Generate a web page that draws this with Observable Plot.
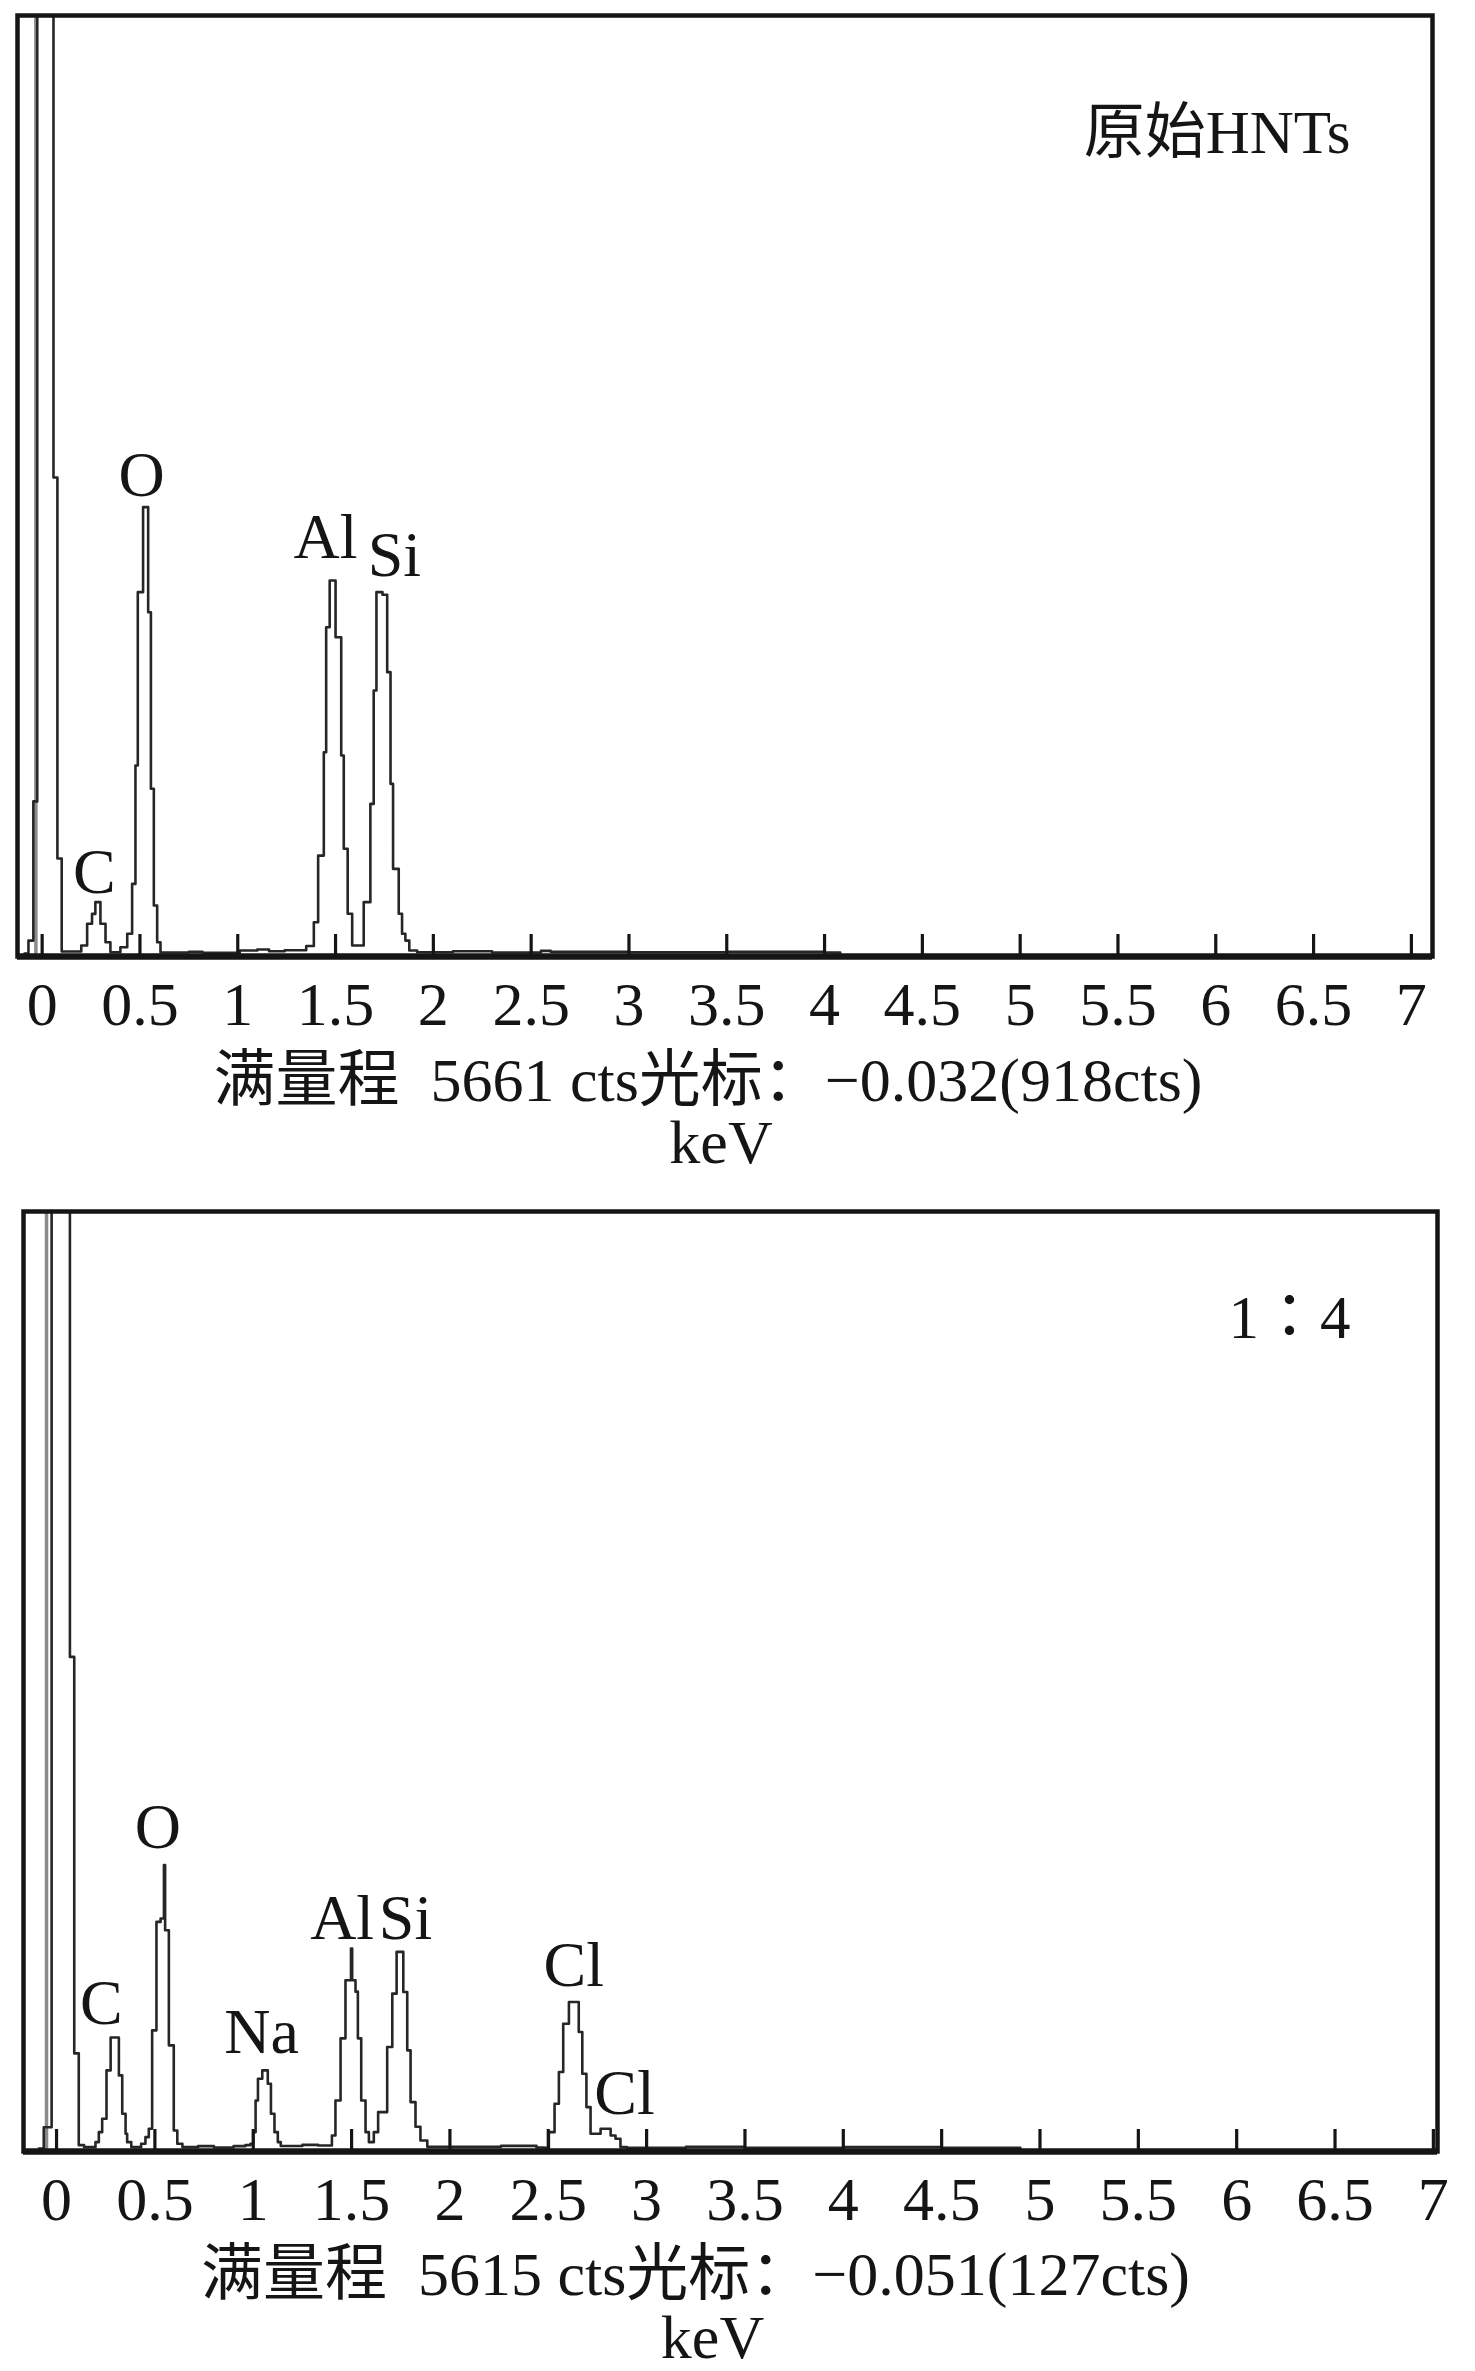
<!DOCTYPE html>
<html>
<head>
<meta charset="utf-8">
<script src="https://cdn.jsdelivr.net/npm/d3@7"></script>
<script src="https://cdn.jsdelivr.net/npm/@observablehq/plot@0.6"></script>
<style>
  html, body { margin: 0; padding: 0; background: #ffffff; }
  #chart { width: 1475px; }
  #chart svg { display: block; }
</style>
</head>
<body>
<div id="chart"></div>
<script>
// ---------- data ----------
const kevTicks = [0, 0.5, 1, 1.5, 2, 2.5, 3, 3.5, 4, 4.5, 5, 5.5, 6, 6.5, 7];
const unitLabel = "keV";

// Panel 1: 原始HNTs (step spectrum, energy keV / counts)
const hntsEnergy = [-0.09, -0.07, -0.045, -0.025, 0.058, 0.078, 0.10, 0.20, 0.23, 0.255, 0.272, 0.298, 0.324, 0.349,
  0.40, 0.435, 0.46, 0.477, 0.489, 0.516, 0.542, 0.556, 0.571, 0.588, 0.605, 0.75, 0.82, 1.01, 1.10, 1.16, 1.24,
  1.35, 1.389, 1.411, 1.44, 1.452, 1.47, 1.50, 1.529, 1.542, 1.562, 1.585, 1.644, 1.678, 1.695, 1.709, 1.74, 1.764,
  1.781, 1.794, 1.823, 1.84, 1.857, 1.877, 1.917, 2.10, 2.30, 2.55, 2.60, 3.00, 3.50, 4.00, 4.08];
const hntsCounts = [0, 78, 918, 9000, 2873, 573, 12, 48, 180, 239, 310, 180, 68, 8,
  38, 119, 420, 1135, 2181, 2694, 2060, 994, 290, 68, 6, 10, 4, 18, 24, 14, 20,
  45, 189, 591, 1215, 1969, 2251, 1909, 1195, 632, 240, 48, 310, 903, 1587, 2181, 2165, 1698,
  1024, 511, 240, 119, 78, 18, 8, 14, 6, 16, 10, 8, 10, 6, 0];
const hntsPeakNames = ["C", "O", "Al", "Si"];
const hntsPeakEnergy = [0.267, 0.508, 1.449, 1.801];
const hntsPeakLabelY = [489, 2885, 2511, 2402];
const hntsFullScale = 5661;
const hntsCursor = -0.032;
const hntsTag = "原始HNTs";
const hntsCaption = "满量程\u00a0\u00a05661 cts光标：−0.032(918cts)";

// Panel 2: 1：4
const mixEnergy = [-0.09, -0.065, -0.025, 0.068, 0.09, 0.113, 0.14, 0.198, 0.215, 0.232, 0.254, 0.275, 0.317, 0.334,
  0.351, 0.359, 0.38, 0.43, 0.452, 0.469, 0.486, 0.508, 0.529, 0.546, 0.552, 0.571, 0.596, 0.614, 0.64, 0.72, 0.80,
  0.90, 0.96, 0.986, 1.0, 1.012, 1.024, 1.046, 1.074, 1.09, 1.108, 1.125, 1.14, 1.25, 1.33, 1.40, 1.418, 1.444,
  1.469, 1.497, 1.503, 1.52, 1.532, 1.549, 1.571, 1.588, 1.613, 1.635, 1.681, 1.707, 1.729, 1.763, 1.783, 1.80,
  1.825, 1.85, 1.885, 2.26, 2.44, 2.48, 2.503, 2.532, 2.554, 2.576, 2.605, 2.655, 2.673, 2.694, 2.715, 2.766,
  2.817, 2.842, 2.867, 2.90, 3.2, 3.5, 4.0, 4.5, 4.9];
const mixCounts = [0, 127, 9000, 2946, 570, 20, 8, 38, 98, 178, 468, 665, 438, 208,
  88, 38, 8, 28, 68, 118, 708, 1358, 1378, 1698, 1308, 618, 108, 28, 8, 14, 6,
  14, 20, 28, 98, 288, 418, 468, 388, 208, 98, 38, 15, 22, 18, 78, 288, 660,
  1008, 1198, 1008, 940, 660, 288, 98, 38, 98, 218, 608, 928, 1178, 938, 588, 278,
  130, 48, 10, 16, 6, 4, 98, 268, 458, 748, 878, 698, 448, 248, 88, 118,
  78, 58, 8, 4, 10, 4, 8, 4, 0];
const mixPeakNames = ["C", "O", "Na", "Al", "Si", "Cl", "Cl"];
const mixPeakEnergy = [0.228, 0.515, 1.042, 1.452, 1.774, 2.63, 2.888];
const mixPeakLabelY = [870, 1926, 696, 1380, 1380, 1098, 330];
const mixFullScale = 5615;
const mixCursor = -0.051;
const mixTag = "1：4";
const mixCaption = "满量程\u00a0\u00a05615 cts光标：−0.051(127cts)";

// ---------- drawing ----------
const FONT = "'Liberation Serif', 'Times New Roman', 'Noto Sans CJK SC', serif";
const TAG_FONT = "'Liberation Serif', 'Times New Roman', 'Noto Sans CJK TC', serif";
const INK = "#151515";

function panel(o) {
  const spectrum = o.energy.map((e, i) => ({e, c: o.counts[i]}));
  const peaks = o.peakNames.map((n, i) => ({n, e: o.peakEnergy[i], c: o.peakY[i]}));
  return Plot.plot({
    width: 1475,
    height: o.height,
    marginTop: o.mt, marginRight: o.mr, marginBottom: o.mb, marginLeft: o.ml,
    style: {fontFamily: FONT, fontSize: "62px", color: INK, background: "#ffffff", overflow: "visible"},
    x: {domain: o.xDomain},
    y: {domain: [o.yMin, o.fullScale], axis: null},
    marks: [
      Plot.ruleX([o.cursor], {x: d => d, stroke: "#8a8a8a", strokeWidth: 3.5}),
      Plot.line(spectrum, {x: "e", y: "c", curve: "step-after", stroke: "#262626", strokeWidth: 2.6, clip: true}),
      Plot.axisX({ticks: kevTicks, tickSize: 22, dy: -22, tickFormat: () => "", label: null, strokeWidth: 3.2, stroke: INK}),
      Plot.axisX({ticks: kevTicks, tickSize: 0, tickPadding: 24, tickFormat: d => String(d), label: null, fontSize: 62, fill: INK}),
      Plot.frame({stroke: INK, strokeWidth: 4.5}),
      Plot.ruleY([o.yMin], {y: d => d, stroke: INK, strokeWidth: 6.5}),
      Plot.text(peaks, {x: "e", y: "c", text: "n", fontSize: 64, fill: INK, lineAnchor: "middle"}),
      Plot.text([o.tag], {text: d => d, frameAnchor: "top-right", textAnchor: "end", lineAnchor: "middle",
        dx: o.tagDx, dy: o.tagDy, fontSize: 61, fill: INK, fontFamily: o.tagFont}),
      Plot.text([o.caption], {text: d => d, frameAnchor: "bottom", lineAnchor: "middle",
        dx: o.capDx, dy: o.capDy, fontSize: 62, fill: INK}),
      Plot.text([unitLabel], {text: d => d, frameAnchor: "bottom", lineAnchor: "middle",
        dx: o.unitDx, dy: o.unitDy, fontSize: 62, fill: INK})
    ]
  });
}

const chart = document.getElementById("chart");
chart.append(panel({
  energy: hntsEnergy, counts: hntsCounts, fullScale: hntsFullScale, yMin: -18, cursor: hntsCursor,
  peakNames: hntsPeakNames, peakEnergy: hntsPeakEnergy, peakY: hntsPeakLabelY,
  tag: hntsTag, tagFont: FONT, caption: hntsCaption,
  height: 1185, mt: 15, mr: 43, mb: 229, ml: 17, xDomain: [-0.126, 7.108],
  tagDx: -82, tagDy: 118, capDx: -17, capDy: 125, unitDx: -4, unitDy: 187
}));
chart.append(panel({
  energy: mixEnergy, counts: mixCounts, fullScale: mixFullScale, yMin: -18, cursor: mixCursor,
  peakNames: mixPeakNames, peakEnergy: mixPeakEnergy, peakY: mixPeakLabelY,
  tag: mixTag, tagFont: TAG_FONT, caption: mixCaption,
  height: 1186, mt: 26, mr: 38, mb: 220, ml: 23, xDomain: [-0.168, 7.021],
  tagDx: -87, tagDy: 107, capDx: -35, capDy: 124, unitDx: -18, unitDy: 187
}));
</script>
</body>
</html>
